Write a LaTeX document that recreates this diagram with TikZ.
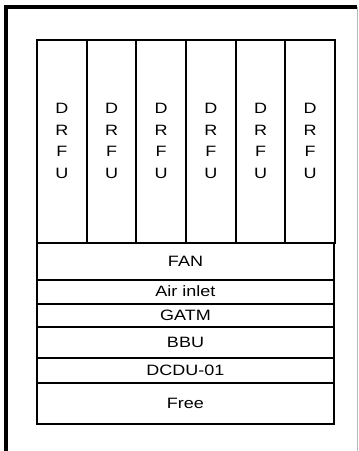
\documentclass[tikz,border=0pt]{standalone}
\usepackage{fontspec}
\setmainfont{Liberation Sans}[FakeStretch=1.2]
\usetikzlibrary{positioning}

\tikzset{
  slotbox/.style={draw,line width=2pt,outer sep=0pt,inner sep=0pt,
        minimum width=49.67pt,minimum height=203pt,align=center,
        font=\fontsize{15}{21.5}\selectfont},
  shelfbox/.style={draw,line width=2pt,outer sep=0pt,inner sep=0pt,
        minimum width=297pt,font=\fontsize{15}{17}\selectfont},
}

\begin{document}
\begin{tikzpicture}[x=1pt,y=-1pt]
  \useasboundingbox (0,0) rectangle (359,451);

  % cabinet frame
  \draw[line width=3.2pt] (6,451) -- (6,7) -- (357,7);
  \draw[gray!55,line width=0.8pt] (357.5,7) -- (357.5,451);

  % DRFU slots
  \node[slotbox,anchor=north west] (drfu1) at (37,39.5) {D\\R\\F\\U};
  \node[slotbox,right=0pt of drfu1] (drfu2) {D\\R\\F\\U};
  \node[slotbox,right=0pt of drfu2] (drfu3) {D\\R\\F\\U};
  \node[slotbox,right=0pt of drfu3] (drfu4) {D\\R\\F\\U};
  \node[slotbox,right=0pt of drfu4] (drfu5) {D\\R\\F\\U};
  \node[slotbox,right=0pt of drfu5] (drfu6) {D\\R\\F\\U};

  % shelves below
  \node[shelfbox,minimum height=37pt,anchor=north west] (fan) at (drfu1.south west) {FAN};
  \node[shelfbox,minimum height=24pt,below=0pt of fan] (inlet) {Air inlet};
  \node[shelfbox,minimum height=23pt,below=0pt of inlet] (gatm) {GATM};
  \node[shelfbox,minimum height=31pt,below=0pt of gatm] (bbu) {BBU};
  \node[shelfbox,minimum height=25pt,below=0pt of bbu] (dcdu) {DCDU-01};
  \node[shelfbox,minimum height=41pt,below=0pt of dcdu] (free) {Free};

\end{tikzpicture}
\end{document}
